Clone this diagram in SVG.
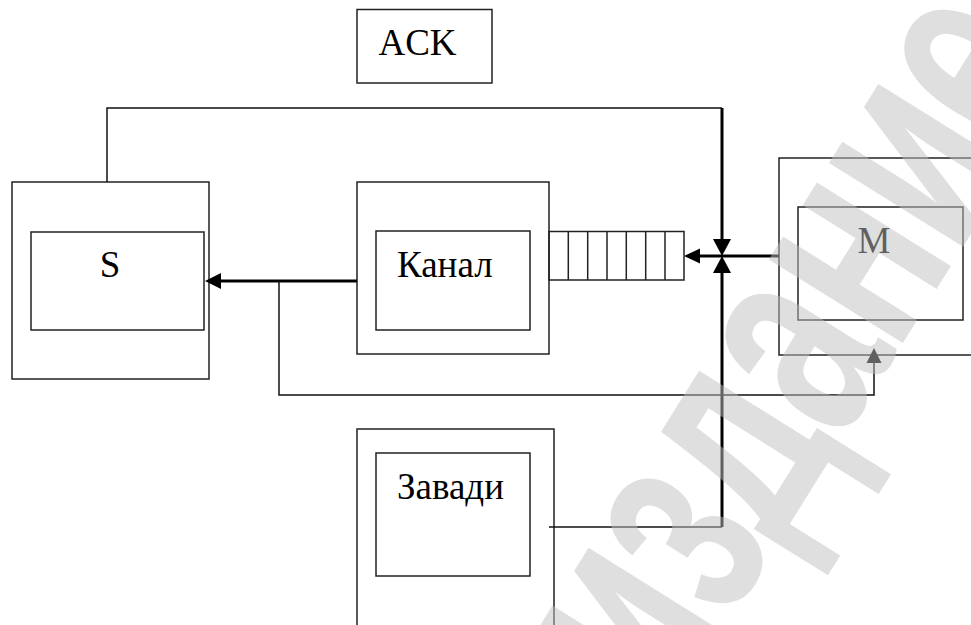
<svg xmlns="http://www.w3.org/2000/svg" width="971" height="625" viewBox="0 0 971 625">
<style>
.box{fill:none;stroke:#222;stroke-width:1.5}
.thin{fill:none;stroke:#111;stroke-width:1.5}
.thick{fill:none;stroke:#000;stroke-width:3}
.lbl{font-family:"Liberation Serif","Times New Roman",serif;font-size:37px;fill:#000}
.wm{font-family:"Liberation Sans",Arial,sans-serif;font-weight:bold;font-size:230px;letter-spacing:-5px;fill:#c0c0c0;fill-opacity:0.5}
.ah{fill:#000}
</style>
<rect width="971" height="625" fill="#fff"/>
<g id="ack">
<rect class="box" x="357" y="9.5" width="135" height="73.5"/>
<text class="lbl" x="417.5" y="55" text-anchor="middle">ACK</text>
</g>
<g id="S">
<rect class="box" x="12" y="182" width="197" height="197"/>
<rect class="box" x="31" y="232" width="173" height="98"/>
<text class="lbl" x="110" y="277" text-anchor="middle">S</text>
</g>
<g id="kanal">
<rect class="box" x="357" y="182" width="192" height="172"/>
<rect class="box" x="376" y="231" width="154" height="99"/>
<text class="lbl" x="397" y="277">Канал</text>
</g>
<g id="queue">
<rect class="box" x="549" y="231.5" width="135" height="48.5"/>
<path class="box" d="M568.3,231.5V280M587.7,231.5V280M607,231.5V280M626.3,231.5V280M645.7,231.5V280M665,231.5V280"/>
</g>
<g id="M">
<rect class="box" x="779" y="158" width="210" height="197"/>
<rect class="box" x="798" y="207" width="165" height="113"/>
<text class="lbl" x="874" y="253" text-anchor="middle">M</text>
</g>
<g id="zavady">
<rect class="box" x="357" y="429" width="197" height="210"/>
<rect class="box" x="376" y="453" width="154" height="123"/>
<text class="lbl" x="397" y="499">Завади</text>
</g>
<g id="connectors">
<path class="thin" d="M107,182V108H722"/>
<path class="thick" d="M722,108V240"/>
<polygon class="ah" points="722,256 713,239 731,239"/>
<path class="thin" d="M549,527H722"/>
<path class="thick" d="M722,527V272"/>
<polygon class="ah" points="722,256 713,273 731,273"/>
<path class="thick" d="M779,256H698"/>
<polygon class="ah" points="684,256 700,248.5 700,263.5"/>
<path class="thick" d="M357,281H219"/>
<polygon class="ah" points="205,281 221,273 221,289"/>
<path class="thin" d="M279,281V395H874V362"/>
<polygon class="ah" points="874,348 866.5,363 881.5,363"/>
</g>
<text class="wm" transform="translate(666,722) rotate(-58) scale(0.85,1.3)" x="0" y="0">издание</text>
</svg>
